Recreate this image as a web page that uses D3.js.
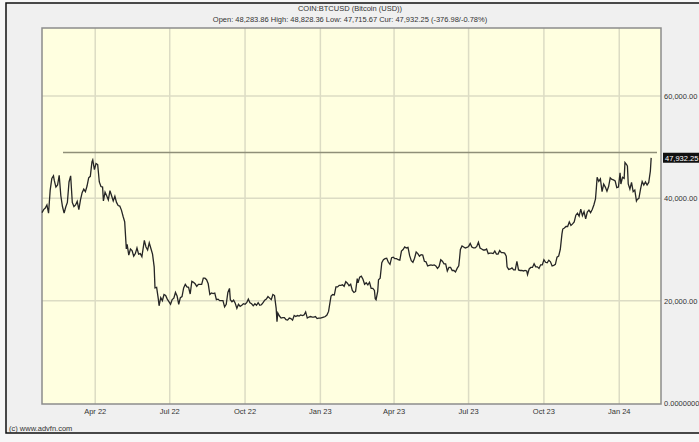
<!DOCTYPE html>
<html>
<head>
<meta charset="utf-8">
<script src="https://cdn.jsdelivr.net/npm/d3@7"></script>
<style>
  body { margin: 0; background: #f7f7f7; }
  text { font-family: "Liberation Sans", Arial, sans-serif; }
</style>
</head>
<body>
<div id="chart"></div>
<script>
// Chart data
var title = "COIN:BTCUSD (Bitcoin (USD))";
var subtitle = "Open: 48,283.86 High: 48,828.36 Low: 47,715.67 Cur: 47,932.25 (-376.98/-0.78%)";
var yTicks = [0, 20000, 40000, 60000];
var yTickLabels = ["0.00000000", "20,000.00", "40,000.00", "60,000.00"];
var xTicks = ["2022-04-01", "2022-07-01", "2022-10-01", "2023-01-01", "2023-04-01", "2023-07-01", "2023-10-01", "2024-01-01"];
var xTickLabels = ["Apr 22", "Jul 22", "Oct 22", "Jan 23", "Apr 23", "Jul 23", "Oct 23", "Jan 24"];
var highLine = 48970;
var lastPrice = 47932.25;

var dates = [
  "2022-01-26","2022-01-28","2022-01-30","2022-02-01","2022-02-03","2022-02-05","2022-02-07","2022-02-09","2022-02-10","2022-02-12",
  "2022-02-14","2022-02-16","2022-02-18","2022-02-20","2022-02-22","2022-02-24","2022-02-26","2022-02-28","2022-03-02","2022-03-04",
  "2022-03-06","2022-03-08","2022-03-10","2022-03-12","2022-03-14","2022-03-16","2022-03-18","2022-03-20","2022-03-22","2022-03-24",
  "2022-03-26","2022-03-28","2022-03-29","2022-03-31","2022-04-02","2022-04-04","2022-04-06","2022-04-08","2022-04-10","2022-04-11",
  "2022-04-13","2022-04-15","2022-04-17","2022-04-19","2022-04-21","2022-04-23","2022-04-25","2022-04-27","2022-04-29","2022-05-01",
  "2022-05-03","2022-05-05","2022-05-07","2022-05-09","2022-05-10","2022-05-12","2022-05-14","2022-05-16","2022-05-18","2022-05-20",
  "2022-05-22","2022-05-24","2022-05-26","2022-05-28","2022-05-31","2022-06-02","2022-06-04","2022-06-06","2022-06-08","2022-06-10",
  "2022-06-12","2022-06-13","2022-06-15","2022-06-17","2022-06-18","2022-06-20","2022-06-22","2022-06-24","2022-06-26","2022-06-28",
  "2022-06-30","2022-07-02","2022-07-04","2022-07-06","2022-07-08","2022-07-10","2022-07-12","2022-07-14","2022-07-16","2022-07-18",
  "2022-07-20","2022-07-22","2022-07-24","2022-07-26","2022-07-28","2022-07-30","2022-08-01","2022-08-03","2022-08-05","2022-08-07",
  "2022-08-09","2022-08-11","2022-08-13","2022-08-15","2022-08-17","2022-08-19","2022-08-21","2022-08-23","2022-08-25","2022-08-27",
  "2022-08-29","2022-08-31","2022-09-02","2022-09-04","2022-09-06","2022-09-08","2022-09-10","2022-09-12","2022-09-13","2022-09-15",
  "2022-09-17","2022-09-19","2022-09-21","2022-09-23","2022-09-25","2022-09-27","2022-09-29","2022-10-01","2022-10-03","2022-10-05",
  "2022-10-07","2022-10-09","2022-10-11","2022-10-13","2022-10-15","2022-10-17","2022-10-19","2022-10-21","2022-10-23","2022-10-25",
  "2022-10-27","2022-10-29","2022-10-31","2022-11-02","2022-11-04","2022-11-06","2022-11-08","2022-11-09","2022-11-10","2022-11-12",
  "2022-11-14","2022-11-16","2022-11-18","2022-11-20","2022-11-22","2022-11-24","2022-11-26","2022-11-28","2022-11-30","2022-12-02",
  "2022-12-04","2022-12-06","2022-12-08","2022-12-10","2022-12-12","2022-12-14","2022-12-16","2022-12-18","2022-12-20","2022-12-22",
  "2022-12-24","2022-12-26","2022-12-28","2022-12-30","2023-01-01","2023-01-03","2023-01-05","2023-01-07","2023-01-09","2023-01-11",
  "2023-01-13","2023-01-14","2023-01-16","2023-01-18","2023-01-20","2023-01-22","2023-01-24","2023-01-26","2023-01-28","2023-01-30",
  "2023-02-01","2023-02-03","2023-02-05","2023-02-07","2023-02-09","2023-02-11","2023-02-13","2023-02-15","2023-02-16","2023-02-18",
  "2023-02-20","2023-02-22","2023-02-24","2023-02-26","2023-02-28","2023-03-02","2023-03-04","2023-03-06","2023-03-08","2023-03-09",
  "2023-03-10","2023-03-12","2023-03-13","2023-03-15","2023-03-17","2023-03-19","2023-03-21","2023-03-23","2023-03-25","2023-03-27",
  "2023-03-29","2023-03-31","2023-04-02","2023-04-04","2023-04-06","2023-04-08","2023-04-10","2023-04-12","2023-04-14","2023-04-16",
  "2023-04-18","2023-04-20","2023-04-22","2023-04-24","2023-04-26","2023-04-28","2023-04-30","2023-05-02","2023-05-04","2023-05-06",
  "2023-05-08","2023-05-10","2023-05-12","2023-05-14","2023-05-16","2023-05-18","2023-05-20","2023-05-22","2023-05-24","2023-05-26",
  "2023-05-28","2023-05-30","2023-06-01","2023-06-03","2023-06-05","2023-06-07","2023-06-09","2023-06-11","2023-06-13","2023-06-15",
  "2023-06-17","2023-06-19","2023-06-20","2023-06-21","2023-06-23","2023-06-25","2023-06-27","2023-06-29","2023-07-01","2023-07-03",
  "2023-07-05","2023-07-07","2023-07-09","2023-07-11","2023-07-13","2023-07-15","2023-07-17","2023-07-19","2023-07-21","2023-07-23",
  "2023-07-25","2023-07-27","2023-07-29","2023-07-31","2023-08-02","2023-08-04","2023-08-06","2023-08-08","2023-08-10","2023-08-12",
  "2023-08-14","2023-08-16","2023-08-17","2023-08-19","2023-08-21","2023-08-23","2023-08-25","2023-08-27","2023-08-29","2023-08-31",
  "2023-09-02","2023-09-04","2023-09-06","2023-09-08","2023-09-10","2023-09-11","2023-09-13","2023-09-15","2023-09-17","2023-09-19",
  "2023-09-21","2023-09-23","2023-09-25","2023-09-27","2023-09-29","2023-10-01","2023-10-03","2023-10-05","2023-10-07","2023-10-09",
  "2023-10-11","2023-10-13","2023-10-15","2023-10-17","2023-10-19","2023-10-21","2023-10-23","2023-10-24","2023-10-26","2023-10-28",
  "2023-10-30","2023-11-01","2023-11-03","2023-11-05","2023-11-07","2023-11-09","2023-11-11","2023-11-13","2023-11-15","2023-11-17",
  "2023-11-19","2023-11-21","2023-11-23","2023-11-25","2023-11-27","2023-11-29","2023-12-01","2023-12-03","2023-12-04","2023-12-05",
  "2023-12-07","2023-12-09","2023-12-11","2023-12-13","2023-12-15","2023-12-17","2023-12-19","2023-12-21","2023-12-23","2023-12-25",
  "2023-12-27","2023-12-29","2023-12-31","2024-01-02","2024-01-03","2024-01-05","2024-01-07","2024-01-08","2024-01-10","2024-01-11",
  "2024-01-12","2024-01-14","2024-01-16","2024-01-18","2024-01-20","2024-01-22","2024-01-23","2024-01-25","2024-01-27","2024-01-29",
  "2024-01-31","2024-02-02","2024-02-04","2024-02-06","2024-02-08","2024-02-09"
];

var closes = [
  37200,37800,38100,38700,37100,41600,43900,44400,43500,42200,
  42600,44500,40500,38400,37100,38300,39200,43200,44400,39200,
  38400,38700,39400,37800,39700,41100,41800,41300,42400,44000,
  44300,47100,47500,45600,46800,46600,43200,42300,42200,39500,
  41200,40500,39700,41500,40500,39500,40400,39200,38600,38500,
  37700,36500,35400,30100,31000,28900,30100,29800,28700,29200,
  30300,29100,29200,28600,31800,30500,29900,31300,30200,29100,
  26600,22500,22600,20400,19000,20600,20000,21200,21000,20300,
  19800,19300,20200,20500,21600,20900,19300,20600,20800,22500,
  23200,22700,22600,21300,23800,23600,23300,22800,23200,23200,
  23200,24400,24400,24100,23300,21200,21500,21400,21500,20200,
  20300,20000,20000,20000,18800,19300,21600,22400,20200,19800,
  20100,19500,18500,19300,18900,19100,19400,19300,19600,20300,
  19600,19400,19000,19400,19100,19600,19100,19200,19600,20100,
  20300,20800,20500,20200,21200,21000,18500,15900,17600,17000,
  16600,16700,16700,16300,16200,16600,16500,16200,17100,16900,
  17100,17000,17200,17100,17200,17800,16600,16800,16900,16800,
  16800,16900,16500,16600,16600,16700,16800,16900,17200,17900,
  19900,20900,21200,21100,22700,22700,23000,23000,23100,22800,
  23700,23400,22900,23200,22000,21600,21800,24300,23500,24600,
  24800,24200,23200,23500,23100,23600,22400,22400,22000,20400,
  20200,21800,24100,24400,27400,28000,28200,28300,27500,27100,
  28400,28500,28200,28200,28000,27900,29700,30000,30500,30300,
  30400,28800,27800,27500,28300,29500,29200,28700,29000,28900,
  27700,27600,26800,26900,27000,26900,27000,26800,26300,26700,
  28000,27700,27200,27200,25800,26500,26500,25900,25900,25600,
  26300,26800,28300,30000,30700,30500,30300,30400,30600,31200,
  30500,30300,30300,30600,31400,30300,30100,29900,29900,30100,
  29200,29300,29300,29200,29700,29100,29100,29800,29400,29400,
  29300,28700,26600,26100,26200,26400,26000,26000,27700,26000,
  25900,25900,25800,25900,25800,25100,26200,26500,26500,27200,
  26600,26600,26300,27000,27000,28000,27500,27400,27900,27600,
  26800,26900,27100,28500,28700,30000,33000,34000,34200,34500,
  34500,35400,34700,35000,35400,36700,37100,36500,37900,36600,
  37400,36000,37300,37700,37200,37800,38700,39900,41900,44100,
  43300,43800,41300,42800,42200,41400,42300,44000,43700,43600,
  43400,42100,42200,45000,42800,44100,43900,47000,46600,46300,
  42800,41800,43100,41300,41600,39500,39800,40000,41800,43300,
  42600,43200,42600,43100,45300,47900
];

var W = 699, H = 442;
var plot = { left: 42, right: 661, top: 28, bottom: 404 };

var parse = d3.timeParse("%Y-%m-%d");
var data = dates.map(function(d, i) { return { date: parse(d), close: closes[i] }; });

var svg = d3.select("#chart").append("svg")
  .attr("width", W)
  .attr("height", H);

// outer panel
svg.append("rect")
  .attr("x", 6).attr("y", 3)
  .attr("width", W + 10).attr("height", 430)
  .attr("fill", "#f0f0f0")
  .attr("stroke", "#111")
  .attr("stroke-width", 1.5);

var x = d3.scaleTime()
  .domain([parse("2022-01-26"), parse("2024-02-21")])
  .range([plot.left, plot.right]);

var y = d3.scaleLinear()
  .domain([0, 60000])
  .range([403, 96]);

// plot background
svg.append("rect")
  .attr("x", plot.left).attr("y", plot.top)
  .attr("width", plot.right - plot.left).attr("height", plot.bottom - plot.top)
  .attr("fill", "#ffffe0");

// grid
svg.append("g")
  .selectAll("line")
  .data(xTicks)
  .enter().append("line")
    .attr("x1", function(d) { return x(parse(d)); })
    .attr("x2", function(d) { return x(parse(d)); })
    .attr("y1", plot.top)
    .attr("y2", plot.bottom)
    .attr("stroke", "#dcdcc4")
    .attr("stroke-width", 1.5);

svg.append("g")
  .selectAll("line")
  .data(yTicks.slice(1))
  .enter().append("line")
    .attr("x1", plot.left)
    .attr("x2", plot.right)
    .attr("y1", function(d) { return y(d); })
    .attr("y2", function(d) { return y(d); })
    .attr("stroke", "#dcdcc4")
    .attr("stroke-width", 1.5);

// plot frame
svg.append("rect")
  .attr("x", plot.left).attr("y", plot.top)
  .attr("width", plot.right - plot.left).attr("height", plot.bottom - plot.top)
  .attr("fill", "none")
  .attr("stroke", "#8c8c8c")
  .attr("stroke-width", 1.5);

// high line
svg.append("line")
  .attr("x1", 63).attr("x2", 657)
  .attr("y1", y(highLine)).attr("y2", y(highLine))
  .attr("stroke", "#8f8f78")
  .attr("stroke-width", 1.5);

// price line
var line = d3.line()
  .x(function(d) { return x(d.date); })
  .y(function(d) { return y(d.close); });

svg.append("path")
  .datum(data)
  .attr("d", line)
  .attr("fill", "none")
  .attr("stroke", "#262626")
  .attr("stroke-width", 1.3)
  .attr("stroke-linejoin", "miter");

// x axis labels
svg.append("g")
  .selectAll("text")
  .data(xTicks)
  .enter().append("text")
    .attr("x", function(d) { return x(parse(d)); })
    .attr("y", 414)
    .attr("text-anchor", "middle")
    .attr("font-size", 7.5)
    .attr("fill", "#333")
    .text(function(d, i) { return xTickLabels[i]; });

// y axis labels
svg.append("g")
  .selectAll("text")
  .data(yTicks)
  .enter().append("text")
    .attr("x", 664)
    .attr("y", function(d) { return y(d) + 3; })
    .attr("font-size", 7.5)
    .attr("fill", "#333")
    .text(function(d, i) { return yTickLabels[i]; });

// current price tag
svg.append("rect")
  .attr("x", 663).attr("y", y(lastPrice) - 5)
  .attr("width", 40).attr("height", 10)
  .attr("fill", "#111");

svg.append("text")
  .attr("x", 665)
  .attr("y", y(lastPrice) + 3)
  .attr("font-size", 7.5)
  .attr("fill", "#fff")
  .text(d3.format(",.2f")(lastPrice));

// titles
svg.append("text")
  .attr("x", 350).attr("y", 11)
  .attr("text-anchor", "middle")
  .attr("font-size", 7.5)
  .attr("fill", "#333")
  .text(title);

svg.append("text")
  .attr("x", 350).attr("y", 22)
  .attr("text-anchor", "middle")
  .attr("font-size", 7.5)
  .attr("fill", "#333")
  .text(subtitle);

svg.append("text")
  .attr("x", 9).attr("y", 431)
  .attr("font-size", 7.5)
  .attr("fill", "#333")
  .text("(c) www.advfn.com");
</script>
</body>
</html>
